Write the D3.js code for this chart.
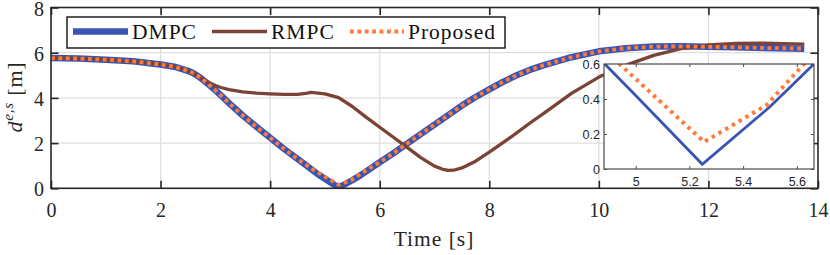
<!DOCTYPE html>
<html>
<head>
<meta charset="utf-8">
<script src="https://cdn.jsdelivr.net/npm/d3@7/dist/d3.min.js"></script>
<style>
  html, body { margin: 0; padding: 0; background: #fff; }
  svg { display: block; }
</style>
</head>
<body>
<svg id="chart" width="830" height="255"></svg>
<script>
// ---------------- data ----------------
const seriesNames = ["DMPC", "RMPC", "Proposed"];

const dmpcTime  = [0, 0.5, 1.0, 1.5, 2.0, 2.25, 2.5, 2.6, 2.7, 2.8, 2.9, 3.0, 3.25, 3.5, 3.75, 4.0, 4.25, 4.5, 4.75, 4.885, 5.0, 5.248, 5.5, 5.66, 6.0, 6.25, 6.5, 6.75, 7.0, 7.25, 7.5, 7.75, 8.0, 8.25, 8.5, 8.75, 9.0, 9.5, 10.0, 10.5, 11.0, 11.5, 12.0, 12.5, 13.0, 13.75];
const dmpcValue = [5.76, 5.74, 5.69, 5.62, 5.48, 5.38, 5.2, 5.09, 4.94, 4.75, 4.55, 4.34, 3.77, 3.22, 2.72, 2.24, 1.75, 1.3, 0.85, 0.6, 0.42, 0.027, 0.356, 0.594, 1.15, 1.55, 1.98, 2.4, 2.82, 3.24, 3.66, 4.04, 4.38, 4.71, 5.0, 5.25, 5.45, 5.8, 6.06, 6.2, 6.27, 6.28, 6.26, 6.24, 6.21, 6.18];

const rmpcTime  = [0, 0.5, 1.0, 1.5, 2.0, 2.25, 2.5, 2.6, 2.7, 2.8, 2.9, 3.0, 3.1, 3.25, 3.5, 3.75, 4.0, 4.25, 4.5, 4.65, 4.75, 5.0, 5.25, 5.5, 5.75, 6.0, 6.25, 6.5, 6.75, 7.0, 7.15, 7.25, 7.35, 7.5, 7.75, 8.0, 8.25, 8.5, 8.75, 9.0, 9.5, 10.0, 10.5, 11.0, 11.5, 12.0, 12.5, 13.0, 13.75];
const rmpcValue = [5.76, 5.74, 5.69, 5.62, 5.48, 5.38, 5.2, 5.09, 4.95, 4.8, 4.66, 4.55, 4.46, 4.37, 4.27, 4.21, 4.18, 4.16, 4.16, 4.2, 4.24, 4.18, 4.01, 3.62, 3.15, 2.7, 2.26, 1.81, 1.36, 0.98, 0.84, 0.79, 0.8, 0.9, 1.2, 1.6, 2.02, 2.45, 2.9, 3.33, 4.2, 4.92, 5.45, 5.88, 6.18, 6.34, 6.41, 6.42, 6.38];

const propTime  = [0, 0.5, 1.0, 1.5, 2.0, 2.25, 2.5, 2.6, 2.7, 2.8, 2.9, 3.0, 3.25, 3.5, 3.75, 4.0, 4.25, 4.5, 4.75, 4.94, 5.0, 5.255, 5.488, 5.625, 6.0, 6.25, 6.5, 6.75, 7.0, 7.25, 7.5, 7.75, 8.0, 8.25, 8.5, 8.75, 9.0, 9.5, 10.0, 10.5, 11.0, 11.5, 12.0, 12.5, 13.0, 13.75];
const propValue = [5.76, 5.74, 5.69, 5.62, 5.48, 5.38, 5.2, 5.09, 4.94, 4.75, 4.55, 4.34, 3.77, 3.22, 2.72, 2.24, 1.75, 1.3, 0.88, 0.6, 0.515, 0.155, 0.366, 0.598, 1.16, 1.55, 1.98, 2.4, 2.82, 3.24, 3.66, 4.04, 4.38, 4.71, 5.0, 5.25, 5.45, 5.8, 6.06, 6.2, 6.27, 6.28, 6.26, 6.24, 6.21, 6.18];

const xTicks = [0, 2, 4, 6, 8, 10, 12, 14];
const yTicks = [0, 2, 4, 6, 8];
const insetXTicks = [5, 5.2, 5.4, 5.6];
const insetYTicks = [0, 0.2, 0.4, 0.6];

// ---------------- layout ----------------
const svg = d3.select("#chart");
const L = 51, R = 818, T = 7.5, B = 188.3;
const x = d3.scaleLinear().domain([0, 14]).range([L, R]);
const y = d3.scaleLinear().domain([0, 8]).range([B, T]);

const colors = { DMPC: "#3a54b3", RMPC: "#7b4335", Proposed: "#ff7b3a" };
const serif = "'Liberation Serif', 'Times New Roman', serif";
const sans = "'Liberation Sans', Arial, Helvetica, sans-serif";
const axisColor = "#262626";

const mk = (ts, vs) => ts.map((t, i) => [t, vs[i]]);
const dmpc = mk(dmpcTime, dmpcValue);
const rmpc = mk(rmpcTime, rmpcValue);
const prop = mk(propTime, propValue);

const defs = svg.append("defs");
defs.append("clipPath").attr("id", "mainClip")
  .append("rect").attr("x", L).attr("y", T).attr("width", R - L).attr("height", B - T);

// grid
const grid = svg.append("g");
grid.selectAll(".gx").data(xTicks.slice(1, -1)).enter().append("line")
  .attr("x1", d => x(d)).attr("x2", d => x(d)).attr("y1", T).attr("y2", B)
  .attr("stroke", "#dedede").attr("stroke-width", 1.3);
grid.selectAll(".gy").data(yTicks.slice(1, -1)).enter().append("line")
  .attr("y1", d => y(d)).attr("y2", d => y(d)).attr("x1", L).attr("x2", R)
  .attr("stroke", "#dedede").attr("stroke-width", 1.3);

// lines
const line = d3.line().x(d => x(d[0])).y(d => y(d[1]));
const lg = svg.append("g").attr("clip-path", "url(#mainClip)");
lg.append("path").attr("d", line(dmpc)).attr("fill", "none")
  .attr("stroke", colors.DMPC).attr("stroke-width", 6.5).attr("stroke-linejoin", "round");
lg.append("path").attr("d", line(rmpc)).attr("fill", "none")
  .attr("stroke", colors.RMPC).attr("stroke-width", 3.3).attr("stroke-linejoin", "round");
lg.append("path").attr("d", line(prop)).attr("fill", "none")
  .attr("stroke", colors.Proposed).attr("stroke-width", 3.8).attr("stroke-dasharray", "3.8,3.6");

// axes frame & ticks (inward, all four sides)
const tl = 7.5;
const axG = svg.append("g");
axG.append("rect").attr("x", L).attr("y", T).attr("width", R - L).attr("height", B - T)
  .attr("fill", "none").attr("stroke", axisColor).attr("stroke-width", 1.6);

const xAxisB = d3.axisBottom(x).tickValues(xTicks).tickSizeInner(-tl).tickSizeOuter(0).tickPadding(13);
const gxb = axG.append("g").attr("transform", `translate(0,${B})`).call(xAxisB);
const yAxisL = d3.axisLeft(y).tickValues(yTicks).tickSizeInner(-tl).tickSizeOuter(0).tickPadding(14);
const gyl = axG.append("g").attr("transform", `translate(${L},0)`).call(yAxisL);
const xAxisT = d3.axisTop(x).tickValues(xTicks).tickSizeInner(-tl).tickSizeOuter(0).tickFormat("");
const gxt = axG.append("g").attr("transform", `translate(0,${T})`).call(xAxisT);
const yAxisR = d3.axisRight(y).tickValues(yTicks).tickSizeInner(-tl).tickSizeOuter(0).tickFormat("");
const gyr = axG.append("g").attr("transform", `translate(${R},0)`).call(yAxisR);
[gxb, gyl, gxt, gyr].forEach(g => {
  g.select(".domain").remove();
  g.selectAll(".tick line").attr("stroke", axisColor).attr("stroke-width", 1.6);
  g.selectAll(".tick text").attr("fill", axisColor).attr("font-family", serif).attr("font-size", 20);
});
gxb.selectAll(".tick text").attr("dy", null).attr("y", 28.5);
gyl.selectAll(".tick text").attr("x", -7).attr("dy", "0.38em");

// axis labels
svg.append("text").attr("x", 434).attr("y", 246).attr("text-anchor", "middle")
  .attr("font-family", serif).attr("font-size", 21.5).attr("letter-spacing", 1)
  .attr("fill", axisColor).text("Time [s]");

const yl = svg.append("text").attr("transform", "translate(21.5,97) rotate(-90)")
  .attr("text-anchor", "middle").attr("font-family", serif).attr("font-size", 22)
  .attr("letter-spacing", 0.8).attr("fill", axisColor);
yl.append("tspan").attr("font-style", "italic").text("d");
yl.append("tspan").attr("font-style", "italic").attr("font-size", 15).attr("dy", -8.5).text("e,s");
yl.append("tspan").attr("dy", 8.5).text(" [m]");

// legend
const leg = svg.append("g");
leg.append("rect").attr("x", 67).attr("y", 17).attr("width", 438).attr("height", 31)
  .attr("fill", "#fff").attr("stroke", "#111").attr("stroke-width", 1.4);
const legItems = [
  { name: seriesNames[0], x1: 73, x2: 128, tx: 132, w: 6.5, dash: null },
  { name: seriesNames[1], x1: 212, x2: 267, tx: 271, w: 3.3, dash: null },
  { name: seriesNames[2], x1: 350, x2: 404, tx: 408, w: 3.8, dash: "3.8,3.6" }
];
legItems.forEach(it => {
  const l = leg.append("line").attr("x1", it.x1).attr("x2", it.x2).attr("y1", 31.5).attr("y2", 31.5)
    .attr("stroke", colors[it.name]).attr("stroke-width", it.w);
  if (it.dash) l.attr("stroke-dasharray", it.dash);
  leg.append("text").attr("x", it.tx).attr("y", 38.5).attr("font-family", serif)
    .attr("font-size", 21.5).attr("letter-spacing", 1).attr("fill", "#111").text(it.name);
});

// ---------------- inset ----------------
const iL = 604, iR = 814, iT = 64, iB = 169;
const xi = d3.scaleLinear().domain([4.882, 5.664]).range([iL, iR]);
const yi = d3.scaleLinear().domain([0, 0.6]).range([iB, iT]);
defs.append("clipPath").attr("id", "insetClip")
  .append("rect").attr("x", iL).attr("y", iT).attr("width", iR - iL).attr("height", iB - iT);

const ins = svg.append("g");
ins.append("rect").attr("x", iL).attr("y", iT).attr("width", iR - iL).attr("height", iB - iT)
  .attr("fill", "#fff");
const linei = d3.line().x(d => xi(d[0])).y(d => yi(d[1]));
const ic = ins.append("g").attr("clip-path", "url(#insetClip)");
ic.append("path").attr("d", linei(dmpc)).attr("fill", "none")
  .attr("stroke", colors.DMPC).attr("stroke-width", 2.8).attr("stroke-linejoin", "miter");
ic.append("path").attr("d", linei(prop)).attr("fill", "none")
  .attr("stroke", colors.Proposed).attr("stroke-width", 4).attr("stroke-dasharray", "3.5,4.3");

ins.append("rect").attr("x", iL).attr("y", iT).attr("width", iR - iL).attr("height", iB - iT)
  .attr("fill", "none").attr("stroke", "#4a4a4a").attr("stroke-width", 1.2);
const itl = 3;
const ixb = ins.append("g").attr("transform", `translate(0,${iB})`)
  .call(d3.axisBottom(xi).tickValues(insetXTicks).tickSizeInner(-itl).tickSizeOuter(0).tickFormat(d3.format("")).tickPadding(6));
const ixt = ins.append("g").attr("transform", `translate(0,${iT})`)
  .call(d3.axisTop(xi).tickValues(insetXTicks).tickSizeInner(-itl).tickSizeOuter(0).tickFormat(""));
const iyl = ins.append("g").attr("transform", `translate(${iL},0)`)
  .call(d3.axisLeft(yi).tickValues(insetYTicks).tickSizeInner(-itl).tickSizeOuter(0).tickFormat(d3.format("")).tickPadding(7));
const iyr = ins.append("g").attr("transform", `translate(${iR},0)`)
  .call(d3.axisRight(yi).tickValues(insetYTicks).tickSizeInner(-itl).tickSizeOuter(0).tickFormat(""));
[ixb, ixt, iyl, iyr].forEach(g => {
  g.select(".domain").remove();
  g.selectAll(".tick line").attr("stroke", "#4a4a4a").attr("stroke-width", 1);
  g.selectAll(".tick text").attr("fill", "#262626").attr("font-family", sans).attr("font-size", 12.5);
});
ixb.selectAll(".tick text").attr("dy", null).attr("y", 17);
iyl.selectAll(".tick text").attr("x", -4).attr("dy", "0.35em");
</script>
</body>
</html>
